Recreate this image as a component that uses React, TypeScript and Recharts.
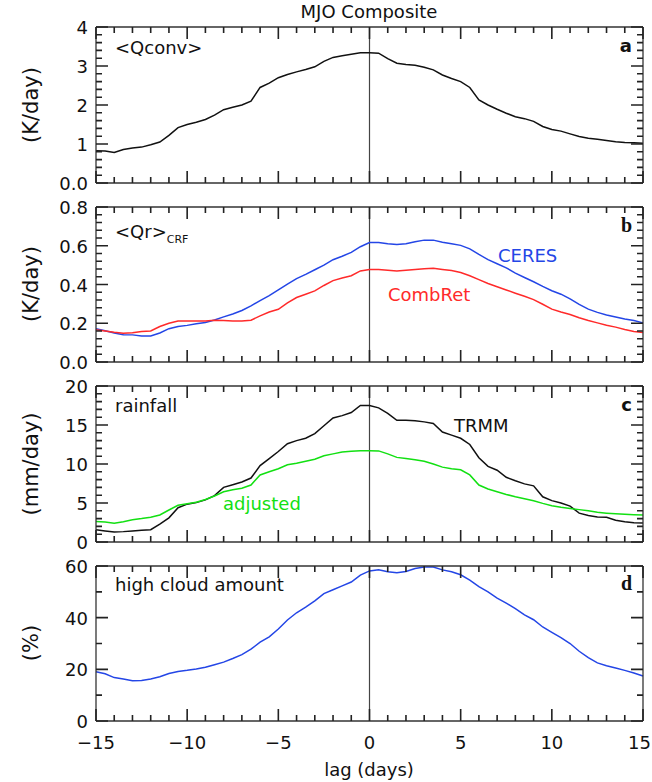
import React from 'react';
import { LineChart, Line, XAxis, YAxis, ReferenceLine } from 'recharts';

// lag in days, every half day
const lag = [
  -15, -14.5, -14, -13.5, -13, -12.5, -12, -11.5, -11, -10.5, -10, -9.5, -9, -8.5, -8, -7.5,
  -7, -6.5, -6, -5.5, -5, -4.5, -4, -3.5, -3, -2.5, -2, -1.5, -1, -0.5, 0, 0.5,
  1, 1.5, 2, 2.5, 3, 3.5, 4, 4.5, 5, 5.5, 6, 6.5, 7, 7.5, 8, 8.5,
  9, 9.5, 10, 10.5, 11, 11.5, 12, 12.5, 13, 13.5, 14, 14.5, 15,
];

// panel a: <Qconv> (K/day)
const qconv = [
  0.83, 0.82, 0.78, 0.86, 0.9, 0.92, 0.98, 1.05, 1.22, 1.42, 1.5, 1.56, 1.63, 1.74, 1.88, 1.94,
  2.0, 2.1, 2.45, 2.56, 2.7, 2.78, 2.85, 2.91, 2.98, 3.12, 3.22, 3.26, 3.3, 3.34, 3.34, 3.33,
  3.19, 3.07, 3.04, 3.02, 2.97, 2.9, 2.77, 2.68, 2.6, 2.45, 2.13, 2.0, 1.89, 1.79, 1.7, 1.65,
  1.58, 1.45, 1.37, 1.33, 1.26, 1.19, 1.15, 1.12, 1.09, 1.06, 1.04, 1.03, 1.02,
];

// panel b: <Qr>CRF (K/day)
const ceres = [
  0.172, 0.161, 0.15, 0.141, 0.14, 0.134, 0.134, 0.15, 0.172, 0.183, 0.189, 0.197, 0.204, 0.217, 0.233, 0.248,
  0.266, 0.29, 0.317, 0.343, 0.372, 0.402, 0.43, 0.452, 0.476, 0.5, 0.528, 0.546, 0.566, 0.595, 0.617, 0.617,
  0.61, 0.607, 0.61, 0.621, 0.629, 0.629, 0.618, 0.61, 0.602, 0.584, 0.555, 0.528, 0.507, 0.486, 0.459, 0.436,
  0.414, 0.39, 0.368, 0.35, 0.326, 0.297, 0.273, 0.256, 0.243, 0.232, 0.222, 0.214, 0.202,
];
const combret = [
  0.167, 0.16, 0.153, 0.148, 0.151, 0.158, 0.16, 0.183, 0.2, 0.211, 0.212, 0.212, 0.212, 0.215, 0.214, 0.212,
  0.212, 0.216, 0.238, 0.258, 0.272, 0.305, 0.333, 0.35, 0.367, 0.395, 0.42, 0.434, 0.445, 0.47, 0.478, 0.478,
  0.474, 0.47, 0.474, 0.478, 0.481, 0.484, 0.478, 0.472, 0.462, 0.445, 0.425, 0.405, 0.388, 0.372, 0.355, 0.339,
  0.322, 0.298, 0.273, 0.258, 0.245, 0.228, 0.214, 0.202, 0.19, 0.18, 0.168, 0.158, 0.152,
];

// panel c: rainfall (mm/day)
const trmm = [
  1.57, 1.42, 1.28, 1.33, 1.42, 1.5, 1.57, 2.29, 3.1, 4.4, 4.85, 5.05, 5.4, 5.95, 7.0, 7.35,
  7.7, 8.2, 9.8, 10.7, 11.6, 12.6, 13.0, 13.3, 13.9, 14.9, 15.9, 16.2, 16.6, 17.5, 17.5, 17.2,
  16.5, 15.6, 15.6, 15.55, 15.4, 15.2, 14.1, 13.7, 13.3, 12.5, 10.8, 9.7, 9.2, 8.3, 7.85, 7.45,
  7.2, 5.8, 5.3, 5.0, 4.6, 3.7, 3.4, 3.22, 3.16, 2.8, 2.6, 2.48, 2.42,
];
const adjusted = [
  2.63, 2.55, 2.42, 2.6, 2.85, 3.0, 3.18, 3.47, 4.1, 4.7, 4.9, 5.1, 5.45, 5.9, 6.44, 6.7,
  6.9, 7.3, 8.6, 9.0, 9.4, 9.9, 10.1, 10.35, 10.6, 11.05, 11.3, 11.55, 11.65, 11.7, 11.7, 11.68,
  11.3, 10.85, 10.7, 10.55, 10.35, 10.0, 9.6, 9.4, 9.25, 8.6, 7.3, 6.8, 6.45, 6.1, 5.8, 5.55,
  5.3, 4.95, 4.65, 4.45, 4.3, 4.15, 4.0, 3.8, 3.7, 3.62, 3.55, 3.5, 3.47,
];

// panel d: high cloud amount (%)
const highCloud = [
  19.1, 18.3, 16.8, 16.3, 15.6, 15.7, 16.3, 17.1, 18.4, 19.2, 19.6, 20.1, 20.8, 21.8, 22.8, 24.2,
  25.7, 27.8, 30.5, 32.6, 35.6, 39.1, 41.9, 44.1, 46.5, 49.3, 50.8, 52.3, 53.8, 56.5, 58.1, 58.5,
  57.8, 57.4, 57.9, 59.0, 59.6, 59.6, 58.5, 57.8, 56.6, 54.5, 52.0, 50.0, 47.6, 45.6, 43.5, 41.1,
  39.2, 36.4, 34.3, 32.3, 30.0, 27.0, 24.5, 22.5, 21.4, 20.5, 19.6, 18.6, 17.4,
];

// tick labels
const lagTicks = [-15, -10, -5, 0, 5, 10, 15];
const qconvTicks = [0, 1, 2, 3, 4];
const qconvTickLabels = ['0.0', '1', '2', '3', '4'];
const qrTicks = [0, 0.2, 0.4, 0.6, 0.8];
const qrTickLabels = ['0.0', '0.2', '0.4', '0.6', '0.8'];
const rainTicks = [0, 5, 10, 15, 20];
const rainTickLabels = ['0', '5', '10', '15', '20'];
const cloudTicks = [0, 20, 40, 60];
const cloudTickLabels = ['0', '20', '40', '60'];

const FONT = '"DejaVu Sans", sans-serif';
const FRAME = '#333';
const TICK = '#222';
const BLUE = '#2446e6';
const RED = '#ff2a2a';
const GREEN = '#12e012';

const W = 652;
const LEFT = 96;
const RIGHT = 8; // plus the 1px right axis
const PAD = 14; // room above/below the frame for tick labels
const PLOT_R = W - RIGHT - 1;

// major ticks plus n minor subdivisions between them
const withMinor = (major: number[], n: number) => {
  const out: number[] = [];
  for (let i = 0; i < major.length - 1; i++) {
    const step = (major[i + 1] - major[i]) / n;
    for (let k = 0; k < n; k++) out.push(+(major[i] + k * step).toFixed(6));
  }
  out.push(major[major.length - 1]);
  return out;
};
const isMajor = (v: number, major: number[]) => major.some((m) => Math.abs(m - v) < 1e-6);

const xAll = withMinor(lagTicks, 5);
const noLabel = () => <g />;
const axisLine = { stroke: FRAME, strokeWidth: 1.3 };

type Series = { key: string; values: number[]; color: string };

interface PanelProps {
  top: number;
  bottom: number;
  series: Series[];
  yTicks: number[];
  yLabels: string[];
  minor: number;
  showX?: boolean;
}

// inward tick marks on all four sides of a frame (plot box is known from the layout)
const FrameTicks: React.FC<{ top: number; bottom: number; yTicks: number[]; minor: number }> = ({ top, bottom, yTicks, minor }) => {
  const y0 = yTicks[0];
  const y1 = yTicks[yTicks.length - 1];
  const px = (v: number) => LEFT + ((v + 15) / 30) * (PLOT_R - LEFT);
  const py = (v: number) => bottom - ((v - y0) / (y1 - y0)) * (bottom - top);
  const segs: string[] = [];
  xAll.forEach((v) => {
    const d = isMajor(v, lagTicks) ? 12 : 6;
    const x = px(v);
    segs.push(`M${x},${bottom}v${-d}`, `M${x},${top}v${d}`);
  });
  withMinor(yTicks, minor).forEach((v) => {
    const d = isMajor(v, yTicks) ? 12 : 6;
    const y = py(v);
    segs.push(`M${LEFT},${y}h${d}`, `M${PLOT_R},${y}h${-d}`);
  });
  return <path d={segs.join('')} stroke={TICK} strokeWidth={1.6} fill="none" />;
};

const Panel: React.FC<PanelProps> = ({ top, bottom, series, yTicks, yLabels, showX }) => {
  const rows = lag.map((l, i) => {
    const r: Record<string, number> = { lag: l };
    series.forEach((s) => (r[s.key] = s.values[i]));
    return r;
  });
  const y0 = yTicks[0];
  const y1 = yTicks[yTicks.length - 1];
  const below = showX ? 40 : PAD;
  const h = bottom - top + PAD + below;

  const xLabel = (p: any) => {
    const v = p.payload.value;
    if (!showX) return <g />;
    const last = v === lagTicks[lagTicks.length - 1];
    return (
      <text x={last ? p.x + 8 : p.x} y={p.y + 28} textAnchor={last ? 'end' : 'middle'} fontSize={18} fontFamily={FONT} fill="#111">
        {v < 0 ? '\u2212' + Math.abs(v) : String(v)}
      </text>
    );
  };
  const yLabel = (p: any) => {
    const idx = yTicks.findIndex((m) => Math.abs(m - p.payload.value) < 1e-6);
    return (
      <text x={p.x - 8} y={p.y + 7} textAnchor="end" fontSize={18} fontFamily={FONT} fill="#111">
        {idx >= 0 ? yLabels[idx] : ''}
      </text>
    );
  };

  const xCommon = { dataKey: 'lag', type: 'number' as const, domain: [-15, 15], interval: 0, height: 1, axisLine, tickSize: 0, tickMargin: 0, tickLine: false };
  const yCommon = { type: 'number' as const, domain: [y0, y1], interval: 0, axisLine, tickSize: 0, tickMargin: 0, tickLine: false, allowDataOverflow: true };

  return (
    <div style={{ position: 'absolute', left: 0, top: top - PAD }}>
      <LineChart width={W} height={h} data={rows} margin={{ top: PAD - 1, right: RIGHT, left: 0, bottom: below - 1 }}>
        <XAxis {...xCommon} ticks={lagTicks} tick={xLabel} />
        <XAxis {...xCommon} xAxisId="t" orientation="top" ticks={lagTicks} tick={noLabel} />
        <YAxis {...yCommon} ticks={yTicks} width={LEFT} tick={yLabel} />
        <YAxis {...yCommon} yAxisId="r" orientation="right" ticks={yTicks} width={1} tick={noLabel} />
        <ReferenceLine x={0} stroke="#444" strokeWidth={1.2} />
        {series.map((s) => (
          <Line
            key={s.key}
            dataKey={s.key}
            type="linear"
            stroke={s.color}
            strokeWidth={1.5}
            dot={false}
            isAnimationActive={false}
          />
        ))}
      </LineChart>
    </div>
  );
};

const txt = { fontFamily: FONT, fontSize: 18, fill: '#111' };

const panels = [
  { top: 27, bottom: 183, yTicks: qconvTicks, minor: 5 },
  { top: 207, bottom: 362, yTicks: qrTicks, minor: 5 },
  { top: 386, bottom: 542, yTicks: rainTicks, minor: 5 },
  { top: 566, bottom: 721, yTicks: cloudTicks, minor: 2 },
];

export default function App() {
  return (
    <div style={{ position: 'absolute', left: 0, top: 0, width: W, height: 782, background: '#fff', overflow: 'hidden' }}>
      <Panel top={27} bottom={183} series={[{ key: 'qconv', values: qconv, color: '#111' }]} yTicks={qconvTicks} yLabels={qconvTickLabels} minor={5} />
      <Panel
        top={207}
        bottom={362}
        series={[
          { key: 'ceres', values: ceres, color: BLUE },
          { key: 'combret', values: combret, color: RED },
        ]}
        yTicks={qrTicks}
        yLabels={qrTickLabels}
        minor={5}
      />
      <Panel
        top={386}
        bottom={542}
        series={[
          { key: 'trmm', values: trmm, color: '#111' },
          { key: 'adjusted', values: adjusted, color: GREEN },
        ]}
        yTicks={rainTicks}
        yLabels={rainTickLabels}
        minor={5}
      />
      <Panel top={566} bottom={721} series={[{ key: 'cloud', values: highCloud, color: BLUE }]} yTicks={cloudTicks} yLabels={cloudTickLabels} minor={2} showX />

      {/* tick marks and text annotations */}
      <svg width={W} height={782} style={{ position: 'absolute', left: 0, top: 0, pointerEvents: 'none' }}>
        {panels.map((p, i) => (
          <FrameTicks key={i} top={p.top} bottom={p.bottom} yTicks={p.yTicks} minor={p.minor} />
        ))}

        <text x={369} y={18} textAnchor="middle" {...txt}>MJO Composite</text>

        <text transform="translate(38,105) rotate(-90)" textAnchor="middle" {...txt} fontSize={21}>(K/day)</text>
        <text transform="translate(38,284) rotate(-90)" textAnchor="middle" {...txt} fontSize={21}>(K/day)</text>
        <text transform="translate(38,464) rotate(-90)" textAnchor="middle" {...txt} fontSize={21}>(mm/day)</text>
        <text transform="translate(38,643) rotate(-90)" textAnchor="middle" {...txt} fontSize={21}>(%)</text>

        <text x={115} y={54} {...txt}>&lt;Qconv&gt;</text>
        <text x={115} y={238} {...txt}>
          &lt;Qr&gt;<tspan fontSize={11} dy={5}>CRF</tspan>
        </text>
        <text x={115} y={412} {...txt}>rainfall</text>
        <text x={115} y={591} {...txt}>high cloud amount</text>

        <text x={498} y={262} {...txt} fill={BLUE}>CERES</text>
        <text x={388} y={301} {...txt} fill={RED}>CombRet</text>
        <text x={454} y={432} {...txt}>TRMM</text>
        <text x={223} y={510} {...txt} fill={GREEN}>adjusted</text>

        <text x={632} y={52} textAnchor="end" {...txt} fontWeight="bold">a</text>
        <text x={632} y={232} textAnchor="end" fontFamily='"Liberation Serif", serif' fontSize={20} fontWeight="bold" fill="#111">b</text>
        <text x={632} y={411} textAnchor="end" {...txt} fontWeight="bold">c</text>
        <text x={632} y={590} textAnchor="end" fontFamily='"Liberation Serif", serif' fontSize={20} fontWeight="bold" fill="#111">d</text>

        <text x={369} y={776} textAnchor="middle" {...txt}>lag (days)</text>
      </svg>
    </div>
  );
}
